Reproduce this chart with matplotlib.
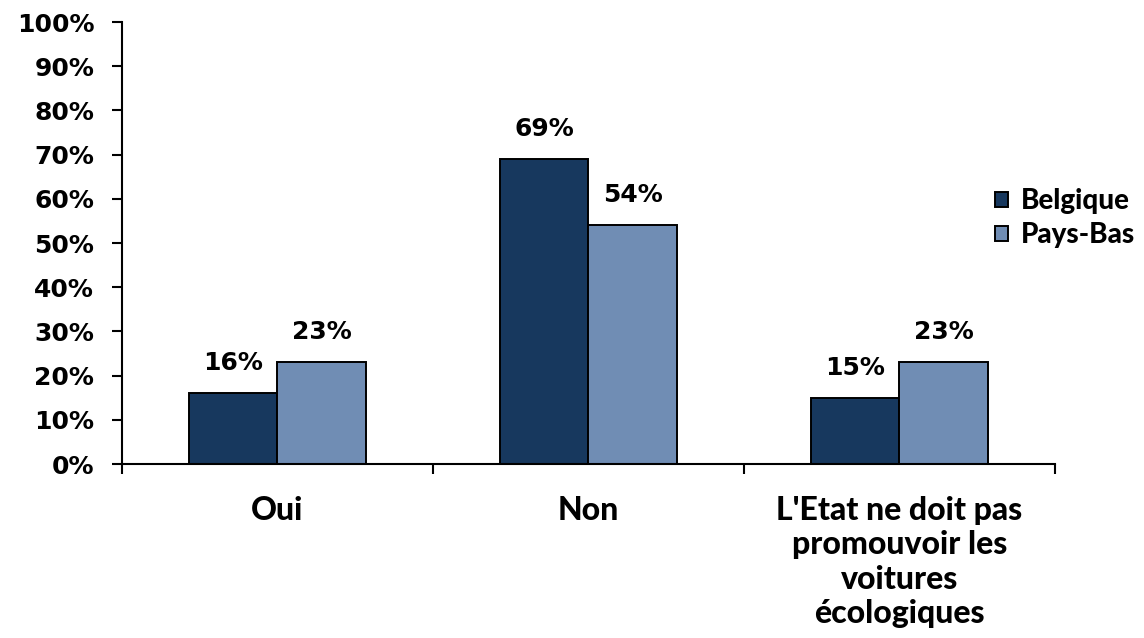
import numpy as np
import matplotlib.pyplot as plt
from matplotlib.ticker import FixedLocator

categories = ["Oui", "Non", "L'Etat ne doit pas\npromouvoir les\nvoitures\nécologiques"]
series_names = ["Belgique", "Pays-Bas"]
belgique = [16, 69, 15]
pays_bas = [23, 54, 23]
colors = ["#17385E", "#708DB4"]

num_font = ['DejaVu Sans']
txt_font = ['Lato', 'DejaVu Sans']

fig = plt.figure(figsize=(11.44, 6.38), dpi=100)
ax = fig.add_axes([0.1066, 0.2727, 0.8156, 0.6928])

x = np.arange(len(categories))
w = 0.285
for i, (vals, name) in enumerate(zip([belgique, pays_bas], series_names)):
    pos = x + (i - 0.5) * w
    bars = ax.bar(pos, vals, w, color=colors[i], edgecolor='black', linewidth=1.4, label=name)
    for b, v in zip(bars, vals):
        ax.annotate(f"{v}%", (b.get_x() + b.get_width() / 2, v), xytext=(0, 13),
                    textcoords='offset points', ha='center', va='bottom',
                    fontsize=18, fontweight='bold', family=num_font)

ax.set_xlim(-0.5, len(categories) - 0.5)
ax.set_ylim(0, 100)
ax.set_yticks(range(0, 101, 10))
ax.set_yticklabels([f"{t}%" for t in range(0, 101, 10)], fontsize=18,
                   fontweight='bold', family=num_font)
ax.tick_params(axis='y', length=7, width=1.5, pad=13)

ax.set_xticks(x)
ax.set_xticklabels(categories, fontsize=23, fontweight=900, family=txt_font,
                   linespacing=1.22, va='top')
ax.tick_params(axis='x', which='major', length=0, pad=23)
ax.xaxis.set_minor_locator(FixedLocator(np.arange(-0.5, len(categories), 1.0)))
ax.tick_params(axis='x', which='minor', length=7, width=1.5)

for s in ['top', 'right']:
    ax.spines[s].set_visible(False)
for s in ['left', 'bottom']:
    ax.spines[s].set_linewidth(1.5)

leg = fig.legend(loc='center left', bbox_to_anchor=(0.858, 0.658),
                 bbox_transform=fig.transFigure, frameon=False, borderpad=0,
                 prop={'family': txt_font, 'weight': 900, 'size': 20},
                 handlelength=0.45, handleheight=0.45, handletextpad=0.45,
                 labelspacing=0.3)

plt.savefig("out.png", dpi=100)
plt.close()
